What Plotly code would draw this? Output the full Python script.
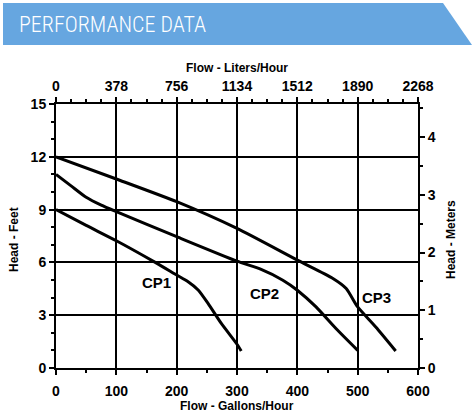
import plotly.graph_objects as go

# Flow (gallons/hour) vs head (feet)
cp1_gph = [0, 50, 100, 163, 200, 219, 236, 252, 274, 300, 307]
cp1_ft = [9.0, 8.1, 7.23, 6.03, 5.28, 4.9, 4.42, 3.67, 2.53, 1.35, 0.97]

cp2_gph = [0, 25, 50, 75, 100, 200, 300, 340, 376, 400, 431, 464, 500]
cp2_ft = [11.0, 10.35, 9.7, 9.25, 8.88, 7.46, 6.07, 5.6, 4.99, 4.42, 3.47, 2.24, 1.0]

cp3_gph = [0, 100, 200, 300, 400, 459, 481, 500, 530, 563]
cp3_ft = [12.0, 10.74, 9.45, 7.93, 6.13, 5.09, 4.52, 3.47, 2.33, 0.97]

series_names = ["CP1", "CP2", "CP3"]
label_pos_gph = [167, 345, 532]
label_pos_ft = [4.83, 4.26, 4.03]

gph_ticks = [0, 100, 200, 300, 400, 500, 600]
lph_ticks = [0, 378, 756, 1134, 1512, 1890, 2268]
ft_ticks = [0, 3, 6, 9, 12, 15]
m_ticks = [0, 1, 2, 3, 4]

FONT = "Liberation Sans, Arial, sans-serif"
tf = dict(family=FONT, size=14, color="black", weight="bold")

fig = go.Figure()
for xs, ys in [(cp1_gph, cp1_ft), (cp2_gph, cp2_ft), (cp3_gph, cp3_ft)]:
    fig.add_trace(go.Scatter(x=xs, y=ys, mode="lines",
                             line=dict(color="black", width=3, shape="spline", smoothing=0.6),
                             showlegend=False, hoverinfo="skip"))
# invisible traces for secondary axes
fig.add_trace(go.Scatter(x=[0, 2268], y=[0, 0], xaxis="x2", yaxis="y", mode="lines",
                         line=dict(width=0), showlegend=False, hoverinfo="skip", opacity=0))
fig.add_trace(go.Scatter(x=[0, 0], y=[0, 4.572], xaxis="x", yaxis="y2", mode="lines",
                         line=dict(width=0), showlegend=False, hoverinfo="skip", opacity=0))

for name, gx, gy in zip(series_names, label_pos_gph, label_pos_ft):
    fig.add_annotation(x=gx, y=gy, text=name, showarrow=False, xanchor="center", yanchor="middle",
                       font=dict(family=FONT, size=15, color="black", weight="bold"))

axis_common = dict(showline=True, linecolor="black", linewidth=2, ticks="outside",
                   tickcolor="black", tickwidth=1.5, ticklen=5, tickfont=tf, zeroline=False)

fig.update_layout(
    width=474, height=414,
    margin=dict(l=56, r=56, t=104, b=46),
    paper_bgcolor="white", plot_bgcolor="white",
    xaxis=dict(range=[0, 600], tickvals=gph_ticks, showgrid=True, gridcolor="black", gridwidth=1.5,
               minor=dict(dtick=50, ticks="outside", ticklen=3, tickcolor="black", showgrid=False),
               ticklabelstandoff=4, mirror=False, **axis_common),
    xaxis2=dict(range=[0, 2268], tickvals=lph_ticks, overlaying="x", side="top", showgrid=False,
                minor=dict(dtick=94.5, ticks="outside", ticklen=3, tickcolor="black", showgrid=False),
                **axis_common),
    yaxis=dict(range=[0, 15], tickvals=ft_ticks, showgrid=True, gridcolor="black", gridwidth=1.5,
               minor=dict(dtick=1, ticks="outside", ticklen=3, tickcolor="black", showgrid=False),
               **axis_common),
    yaxis2=dict(range=[0, 4.572], tickvals=m_ticks, overlaying="y", side="right", showgrid=False,
                minor=dict(dtick=0.5, ticks="outside", ticklen=3, tickcolor="black", showgrid=False),
                **axis_common),
)

# helpers to convert pixel positions to paper coordinates
def px(x):
    return (x - 56) / 362

def py(y):
    return (368 - y) / 264

banner = "M {},{} L {},{} L {},{} L {},{} Z".format(px(3), py(3), px(443), py(3), px(472), py(45), px(3), py(45))
fig.add_shape(type="path", path=banner, xref="paper", yref="paper",
              fillcolor="#66A6E0", line=dict(width=0), layer="above")
fig.add_annotation(x=px(17), y=py(25), xref="paper", yref="paper", text="PERFORMANCE DATA",
                   showarrow=False, xanchor="left", yanchor="middle",
                   font=dict(family="Roboto Condensed, Liberation Sans Narrow, Roboto, sans-serif",
                             size=22, color="white", weight=300))

title_font = dict(family=FONT, size=12, color="black", weight="bold")
fig.add_annotation(x=0.5, y=py(68), xref="paper", yref="paper", text="Flow - Liters/Hour",
                   showarrow=False, xanchor="center", yanchor="middle", font=title_font)
fig.add_annotation(x=0.5, y=py(406), xref="paper", yref="paper", text="Flow - Gallons/Hour",
                   showarrow=False, xanchor="center", yanchor="middle", font=title_font)
fig.add_annotation(x=px(14), y=py(240), xref="paper", yref="paper", text="Head - Feet",
                   showarrow=False, textangle=-90, xanchor="center", yanchor="middle", font=title_font)
fig.add_annotation(x=px(451), y=py(240), xref="paper", yref="paper", text="Head - Meters",
                   showarrow=False, textangle=-90, xanchor="center", yanchor="middle", font=title_font)

fig.write_html("out.html")
